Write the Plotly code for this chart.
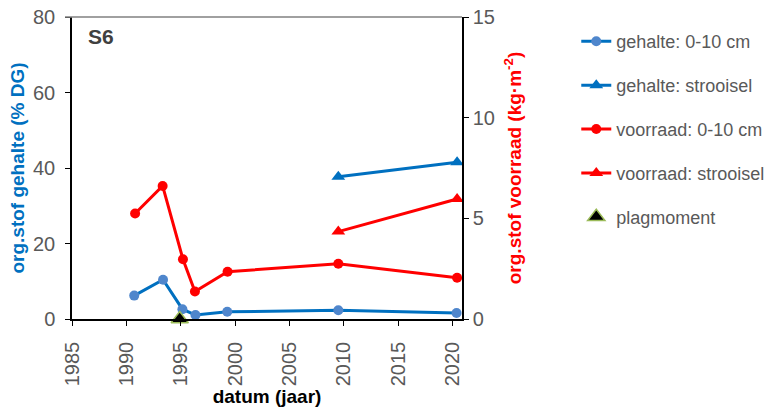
import plotly.graph_objects as go

# Data (decimal years)
years_gehalte_010 = [1990.72, 1993.37, 1995.15, 1996.35, 1999.27, 2009.48, 2020.35]
gehalte_010 = [6.2, 10.4, 2.6, 1.05, 1.9, 2.3, 1.6]

years_gehalte_str = [2009.48, 2020.4]
gehalte_str = [37.7, 41.5]

years_voorraad_010 = [1990.8, 1993.33, 1995.2, 1996.3, 1999.3, 2009.48, 2020.4]
voorraad_010 = [5.24, 6.61, 2.97, 1.37, 2.35, 2.74, 2.05]

years_voorraad_str = [2009.48, 2020.4]
voorraad_str = [4.34, 5.96]

years_plag = [1994.9]
plag = [0]

x_ticks = [1985, 1990, 1995, 2000, 2005, 2010, 2015, 2020]

FONT = "Liberation Sans, Arial, sans-serif"
BLUE = "#0070C0"
BLUE_M = "#4F86CC"
RED = "#FF0000"
GRAY = "#595959"

fig = go.Figure()
fig.add_trace(go.Scatter(x=years_gehalte_010, y=gehalte_010, mode="lines+markers",
                         name="gehalte: 0-10 cm", line=dict(color=BLUE, width=3),
                         marker=dict(symbol="circle", size=10, color=BLUE_M),
                         legendgroup="a", cliponaxis=False))
fig.add_trace(go.Scatter(x=years_gehalte_str, y=gehalte_str, mode="lines+markers",
                         name="gehalte: strooisel", line=dict(color=BLUE, width=3),
                         marker=dict(symbol="triangle-up", size=12, color=BLUE),
                         legendgroup="b", cliponaxis=False))
fig.add_trace(go.Scatter(x=years_voorraad_010, y=voorraad_010, mode="lines+markers",
                         name="voorraad: 0-10 cm", line=dict(color=RED, width=3),
                         marker=dict(symbol="circle", size=10, color=RED),
                         yaxis="y2", legendgroup="c", cliponaxis=False))
fig.add_trace(go.Scatter(x=years_voorraad_str, y=voorraad_str, mode="lines+markers",
                         name="voorraad: strooisel", line=dict(color=RED, width=3),
                         marker=dict(symbol="triangle-up", size=12, color=RED),
                         yaxis="y2", legendgroup="d", cliponaxis=False))
fig.add_trace(go.Scatter(x=years_plag, y=plag, mode="markers", name="plagmoment",
                         marker=dict(symbol="triangle-up", size=15, color="black",
                                     line=dict(color="#9BBB59", width=1.5)),
                         legendgroup="e", cliponaxis=False))

fig.update_layout(
    width=771, height=407,
    margin=dict(l=72, r=309, t=17, b=88, autoexpand=False),
    paper_bgcolor="white", plot_bgcolor="white",
    font=dict(family=FONT, color=GRAY, size=18),
    showlegend=True,
    legend=dict(x=1.293, y=0.98, xanchor="left", yanchor="top",
                font=dict(size=18, color=GRAY, family=FONT),
                traceorder="grouped", tracegroupgap=17.5,
                bgcolor="rgba(0,0,0,0)", itemwidth=30),
    xaxis=dict(range=[1985, 2020.85], tickvals=x_ticks, tickangle=-90,
               showgrid=False, zeroline=False, showline=True, linecolor="black",
               linewidth=1.5, ticks="outside", ticklen=5, tickcolor="black",
               automargin=False, ticklabelstandoff=8, ticklabeloverflow="allow",
               tickfont=dict(size=20, color=GRAY, family=FONT),
               title=dict(text="<b>datum (jaar)</b>", font=dict(size=19, color="black", family=FONT),
                          standoff=0)),
    yaxis=dict(range=[0, 80], dtick=20, showgrid=False, zeroline=False,
               showline=True, linecolor="black", linewidth=1.5,
               ticks="outside", ticklen=5, tickcolor="black", automargin=False,
               ticklabelstandoff=6, ticklabeloverflow="allow",
               tickfont=dict(size=20, color=GRAY, family=FONT),
               title=dict(text="<b>org.stof gehalte (% DG)</b>",
                          font=dict(size=19, color=BLUE, family=FONT), standoff=3)),
    yaxis2=dict(range=[0, 15], dtick=5, overlaying="y", side="right",
                showgrid=False, zeroline=False, showline=True, linecolor="black",
                linewidth=1.5, ticks="outside", ticklen=5, tickcolor="black",
                automargin=False, ticklabeloverflow="allow",
                tickfont=dict(size=20, color=GRAY, family=FONT),
                title=dict(text="<b>org.stof voorraad (kg·m<sup>-2</sup>)</b>",
                           font=dict(size=19, color=RED, family=FONT), standoff=14)),
    shapes=[dict(type="line", xref="paper", yref="paper", x0=-0.018, x1=1.0, y0=1, y1=1,
                 line=dict(color="#808080", width=1.5))],
    annotations=[dict(text="<b>S6</b>", xref="paper", yref="paper", x=0.035, y=0.935,
                      xanchor="left", yanchor="middle", showarrow=False,
                      font=dict(size=21, color="#404040", family=FONT))],
)

fig.write_html("out.html", config={"displayModeBar": False},
               post_script="document.body.style.margin='0';document.body.style.padding='0';")
